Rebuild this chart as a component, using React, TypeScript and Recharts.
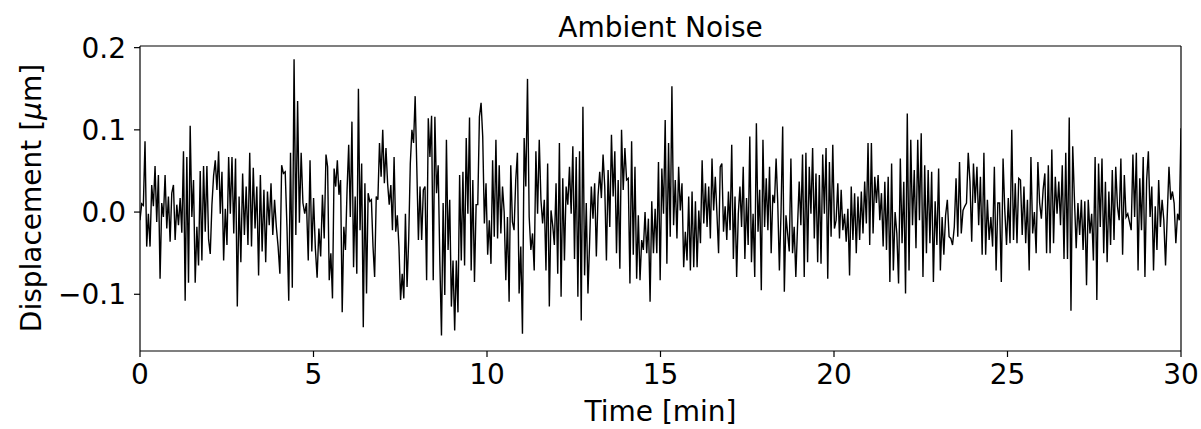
import React from 'react';
import { LineChart, Line, XAxis, YAxis, ReferenceLine } from 'recharts';

// Displacement readings in nm (1 nm = 0.001 µm) in 11 stretches.
// segmentStarts gives the time (min) at which each stretch begins; the last entry is the end.
const segmentStarts = [0, 2.651, 5.36, 8.07, 10.78, 13.49, 16.2, 18.9, 21.61, 24.32, 27.03, 30];

const seg0 = [-10, 10, 8, 86, -42, -2, -42, 33, 7, 56, -12, 45, -81, 11, -6, 45, -20, 19, -36, 23, 33, -34, 9, -16, 17, -25, 74, -108, 67, -86, 105, -6, 39, -86, -18, -65, 50, -59, 56, -24, 56, -33, -51, 9, 44, 63, 27, 74, -2, 49, -59, 4, -40, 67, -2];
const seg1 = [67, -26, 65, -115, 19, -61, 47, -28, 31, -40, 72, -42, 54, -20, 31, -77, 45, -48, 27, -61, 25, -16, 35, -28, 15, -18, -42, -75, 57, 47, 49, -18, -108, 72, -92, 186, -28, 135, -13, 72, 11, -2, 11, -59, 63, -48, 17, -44, -80, -20, -54, 21, -32];
const seg2 = [70, 55, -83, -50, -105, 53, 31, 63, 21, 39, -122, -18, -46, 27, 82, -6, 110, -67, 19, -75, 150, -22, 59, -140, 35, -99, 23, 13, 15, -42, -79, 19, 15, 84, 43, 100, 35, 78, 35, 9, 33, -22, 67, -24, -4, -42, -107, -75, -105, -2, -91, -34, 59, 100, 84, 141, 55, -34];
const seg3 = [31, -34, 27, 31, -83, 114, 67, 117, -83, 116, 23, 57, -59, -150, 11, -101, 88, -46, 15, -115, -59, -144, -59, -122, 45, -59, 49, -65, 90, -2, 115, -71, 39, -85, 9, 9, 116, 133, 92, -14, 35, -52, -10, -63, 63, -30, 88, -32, 57, -26, 31, 0, -83, -6, -109, 57, -12];
const seg4 = [-22, 39, 72, -99, -42, -148, 90, 31, 162, -6, -46, -26, -71, 74, -2, 88, 15, -14, 15, -71, 59, -115, 2, -16, -40, 35, -75, 84, -103, 41, -59, 31, 9, 55, -2, 80, -57, 67, -103, 74, -132, 128, -77, 11, -99, -36, 31, -8, 35, -54, 19, 49, 17, 70, 31, -59];
const seg5 = [51, -18, 94, 19, 74, -50, 39, -69, 100, 27, 78, 39, 41, -87, 86, -52, 55, -81, -4, -83, -34, -46, 0, -50, -8, -109, 13, -50, 4, -50, 61, -83, 53, -2, 112, -63, 84, -30, 153, -16, 39, -32, 55, 2, 35, -67, -24, -59, 19, -71, 25, -67, 13, -67, 2, -38];
const seg6 = [63, -14, 35, -18, 31, -32, 65, 2, 43, -2, -50, 55, 59, -24, 7, -34, 25, -22, 82, -57, 19, -79, -2, 31, -18, 55, -57, 17, -40, 92, -61, -2, -79, 108, -24, 27, -95, 88, -18, 41, -22, 55, -50, 21, 11, 65, 11, -71, 0, 104, -97, -4, -26, -48, 65, -50, -18];
const seg7 = [-79, -18, 37, -16, 70, -79, 72, -61, 55, -2, 78, -32, 47, -61, 45, -63, 70, -2, 78, -81, 61, -30, 82, -20, -10, 35, -32, 27, -22, -2, -36, 4, -77, 31, -34, 23, -50, 19, -34, 25, -26, 37, -14, 84, -40, 84, -26, 43, 11, 45, -10, 23, -42, 37, -46, 43];
const seg8 = [-85, 59, -71, 0, -26, -87, 65, -38, 37, -99, 120, -71, 88, -16, 51, -44, 88, -10, 96, -79, 57, -50, 51, -38, 49, -85, 13, -40, 53, -71, -6, -52, -4, 15, -30, -32, -40, -18, 41, -30, 61, -26, 2, 7, 11, 72, 37, -36, 59, 11, 55, -16, 43, -52];
const seg9 = [72, -52, 15, -34, -6, -42, 55, -71, 11, 11, -85, 65, 2, -40, 17, -38, 100, -34, 35, -38, 41, 39, -28, 31, -38, 15, -71, 67, -26, 0, -50, 61, 11, -8, 27, 47, -50, 57, -50, 76, -38, 43, -2, 37, -16, 57, -57, 72, -57, 115, -120, 80, 15, -44];
const seg10 = [11, -28, 15, -46, 13, -89, 15, -26, -2, -59, 67, -107, 59, -18, 65, -50, 37, -61, 25, -40, 51, -34, 55, 7, -10, 65, -52, 45, -6, -2, -12, -22, 70, -6, 72, -71, 41, -22, 67, -79, 39, 74, -6, 31, -71, 7, -46, 39, -18, 15, -10, -65, -4, 55, 15, 25, 11, -38, -2, -10, 102];

const segments = [seg0, seg1, seg2, seg3, seg4, seg5, seg6, seg7, seg8, seg9, seg10];

const xTicks = [0, 5, 10, 15, 20, 25, 30];
const yTicks = [-0.1, 0, 0.1, 0.2];
const yMin = -0.169;
const yMax = 0.202;

// spread each stretch's samples evenly across its time span
const data: { t: number; v: number }[] = [];
segments.forEach((seg, k) => {
  const t0 = segmentStarts[k];
  const t1 = segmentStarts[k + 1];
  const last = k === segments.length - 1;
  const step = (t1 - t0) / (last ? seg.length - 1 : seg.length);
  seg.forEach((nm, i) => data.push({ t: t0 + i * step, v: nm / 1000 }));
});

const font = "'DejaVu Sans', sans-serif";
const fs = 28;
const tickStyle = { fontSize: fs, fill: '#000', fontFamily: font };

const fmtY = (v: number) => (v < 0 ? '\u2212' : '') + Math.abs(v).toFixed(1);

export default function App() {
  return (
    <div style={{ position: 'absolute', left: 0, top: 0, width: 1201, height: 429, background: '#fff' }}>
      <LineChart width={1201} height={429} data={data} margin={{ top: 46, right: 20, bottom: 0, left: 0 }}>
        <XAxis
          type="number"
          dataKey="t"
          domain={[0, 30]}
          ticks={xTicks}
          allowDataOverflow
          height={78}
          tick={tickStyle}
          tickSize={6}
          tickMargin={7}
          stroke="#000"
          axisLine={{ stroke: '#000', strokeWidth: 1.2 }}
          tickLine={{ stroke: '#000', strokeWidth: 1.2 }}
        />
        <YAxis
          type="number"
          domain={[yMin, yMax]}
          ticks={yTicks}
          allowDataOverflow
          width={140}
          tick={tickStyle}
          tickSize={6}
          tickMargin={8}
          tickFormatter={fmtY}
          stroke="#000"
          axisLine={{ stroke: '#000', strokeWidth: 1.2 }}
          tickLine={{ stroke: '#000', strokeWidth: 1.2 }}
        />
        <ReferenceLine y={yMax} stroke="#000" strokeWidth={1.2} ifOverflow="visible" />
        <ReferenceLine x={30} stroke="#000" strokeWidth={1.2} ifOverflow="visible" />
        <Line
          type="linear"
          dataKey="v"
          stroke="#000"
          strokeWidth={1.4}
          dot={false}
          isAnimationActive={false}
        />
      </LineChart>
      <svg width={1201} height={429} style={{ position: 'absolute', left: 0, top: 0, pointerEvents: 'none' }}>
        <text x={660.5} y={27} textAnchor="middle" dominantBaseline="central" fontSize={fs} fontFamily={font}>
          Ambient Noise
        </text>
        <text x={660.5} y={411} textAnchor="middle" dominantBaseline="central" fontSize={fs} fontFamily={font}>
          Time [min]
        </text>
        <text
          x={31}
          y={198}
          textAnchor="middle"
          dominantBaseline="central"
          fontSize={fs}
          fontFamily={font}
          transform="rotate(-90 31 198)"
        >
          Displacement [<tspan fontStyle="italic">μ</tspan>m]
        </text>
      </svg>
    </div>
  );
}
